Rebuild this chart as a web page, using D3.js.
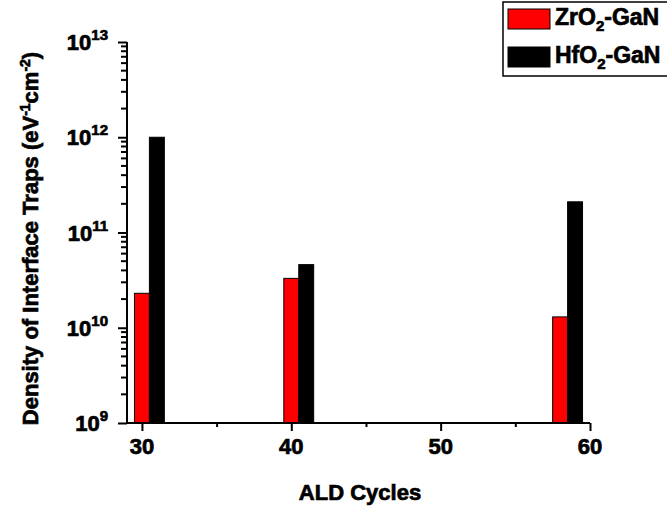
<!DOCTYPE html>
<html>
<head>
<meta charset="utf-8">
<script src="https://cdn.jsdelivr.net/npm/d3@7"></script>
<style>
  html, body { margin: 0; padding: 0; background: #fff; }
  svg { display: block; font-family: "Liberation Sans", Arial, sans-serif; font-weight: bold; }
  svg text { stroke: #000; stroke-width: 0.7px; fill: #000; }
</style>
</head>
<body>
<svg id="chart" width="667" height="510"></svg>
<script>
// ALD cycle positions for each oxide (bars sit side by side)
const zrCycles = [30, 40, 58];
const hfCycles = [31, 41, 59];
// Interface trap density, eV^-1 cm^-2
const zrDit = [2.3e10, 3.3e10, 1.3e10];
const hfDit = [1.0e12, 4.6e10, 2.1e11];

const seriesNames = [["ZrO", "2", "-GaN"], ["HfO", "2", "-GaN"]];
const seriesColors = ["#ff0000", "#000000"];

const xTicks = [30, 40, 50, 60];
const xMinorTicks = [35, 45, 55];
const yExponents = [9, 10, 11, 12, 13];

const svg = d3.select("#chart");
const plotL = 127, plotR = 590, plotT = 42, plotB = 423;

const x = d3.scaleLinear().domain([29, 60]).range([plotL, plotR]);
const y = d3.scaleLog().domain([1e9, 1e13]).range([plotB, plotT]);
const unit = x(1) - x(0);

// bars
const series = [
  { cycles: zrCycles, vals: zrDit, color: seriesColors[0] },
  { cycles: hfCycles, vals: hfDit, color: seriesColors[1] }
];
series.forEach(s => {
  svg.append("g").selectAll("rect")
    .data(s.cycles.map((c, i) => ({ c, v: s.vals[i] })))
    .join("rect")
    .attr("x", d => x(d.c) - unit / 2)
    .attr("width", unit)
    .attr("y", d => y(d.v))
    .attr("height", d => y(1e9) - y(d.v))
    .attr("fill", s.color)
    .attr("stroke", "#000")
    .attr("stroke-width", 1);
});

// y axis: minor log ticks (2..9 within each decade)
const yMinor = [];
for (let e = 9; e < 13; e++) for (let m = 2; m <= 9; m++) yMinor.push(m * Math.pow(10, e));
svg.append("g").selectAll("line")
  .data(yMinor).join("line")
  .attr("x1", plotL - 6).attr("x2", plotL)
  .attr("y1", d => y(d)).attr("y2", d => y(d))
  .attr("stroke", "#000").attr("stroke-width", 2);

// y axis: major ticks and labels
const yAxis = svg.append("g").attr("transform", `translate(${plotL},0)`)
  .call(d3.axisLeft(y).tickValues(yExponents.map(e => Math.pow(10, e))).tickSize(9).tickFormat(""));
yAxis.select(".domain").attr("stroke-width", 2).attr("d", `M0,${plotB}V${plotT}`);
yAxis.selectAll("line").attr("stroke-width", 2);

const yLab = svg.append("g").selectAll("text")
  .data(yExponents).join("text")
  .attr("x", plotL - 19)
  .attr("y", d => y(Math.pow(10, d)) + 8)
  .attr("text-anchor", "end")
  .attr("font-size", 22);
yLab.append("tspan").text("10");
yLab.append("tspan").attr("dy", -10).attr("font-size", 15).text(d => d);

// x axis
const xAxis = svg.append("g").attr("transform", `translate(0,${plotB})`)
  .call(d3.axisBottom(x).tickValues(xTicks).tickSize(8).tickFormat(""));
xAxis.select(".domain").attr("stroke-width", 2).attr("d", `M${plotL},0H${plotR}`);
xAxis.selectAll("line").attr("stroke-width", 2);
svg.append("g").attr("transform", `translate(0,${plotB})`)
  .call(d3.axisBottom(x).tickValues(xMinorTicks).tickSize(4).tickFormat(""))
  .call(g => g.select(".domain").remove())
  .call(g => g.selectAll("line").attr("stroke-width", 2));

svg.append("g").selectAll("text")
  .data(xTicks).join("text")
  .attr("x", d => x(d))
  .attr("y", plotB + 31)
  .attr("text-anchor", "middle")
  .attr("font-size", 22)
  .text(d => d);

// axis titles
svg.append("text")
  .attr("x", x(44.6)).attr("y", 500)
  .attr("text-anchor", "middle")
  .attr("font-size", 22)
  .text("ALD Cycles");

const yt = svg.append("text")
  .attr("transform", `translate(38,${(plotT + plotB) / 2 + 6}) rotate(-90)`)
  .attr("text-anchor", "middle")
  .attr("font-size", 22);
yt.append("tspan").text("Density of Interface Traps (eV");
yt.append("tspan").attr("dy", -8).attr("font-size", 14).text("-1");
yt.append("tspan").attr("dy", 8).text("cm");
yt.append("tspan").attr("dy", -8).attr("font-size", 14).text("-2");
yt.append("tspan").attr("dy", 8).text(")");

// legend
const lg = svg.append("g");
lg.append("rect").attr("x", 503).attr("y", 2).attr("width", 180).attr("height", 74)
  .attr("fill", "#fff").attr("stroke", "#000").attr("stroke-width", 1.5);
seriesNames.forEach((n, i) => {
  const yy = 9 + i * 38;
  lg.append("rect").attr("x", 508).attr("y", yy).attr("width", 42).attr("height", 20)
    .attr("fill", seriesColors[i]).attr("stroke", "#000").attr("stroke-width", 1);
  const t = lg.append("text").attr("x", 555).attr("y", yy + 16).attr("font-size", 23);
  t.append("tspan").text(n[0]);
  t.append("tspan").attr("dy", 6).attr("font-size", 15).text(n[1]);
  t.append("tspan").attr("dy", -6).text(n[2]);
});
</script>
</body>
</html>
